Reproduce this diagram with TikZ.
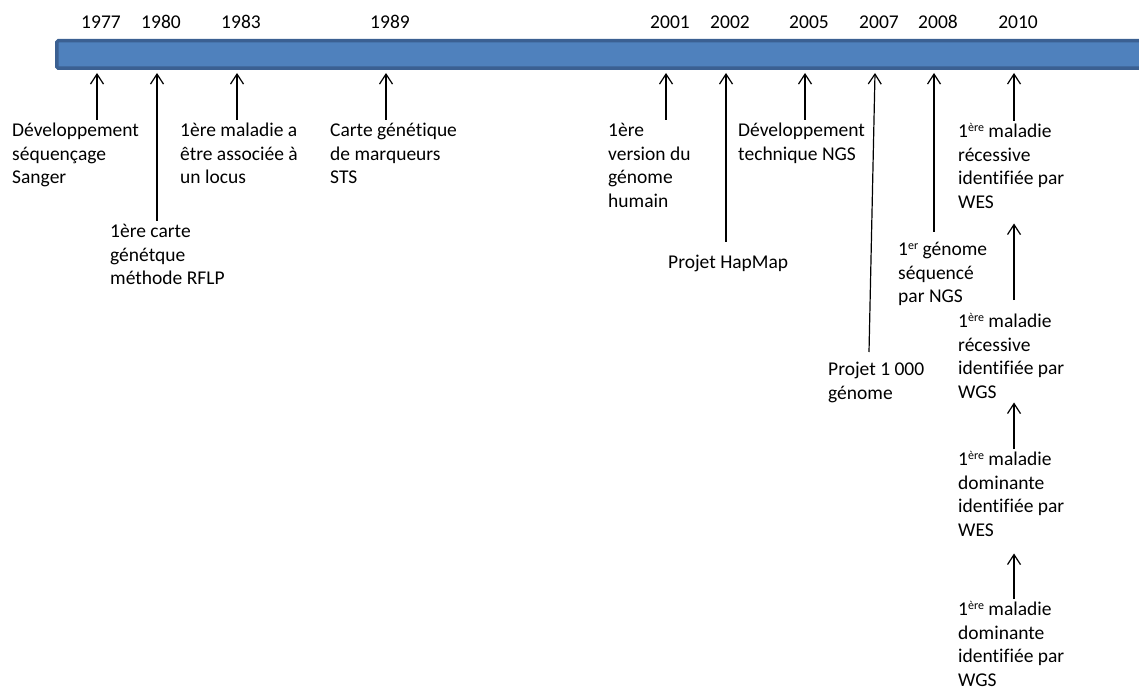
\documentclass[tikz,border=0pt]{standalone}
\usepackage{fontspec}
\setmainfont{Carlito}[Ligatures=NoCommon]
\usetikzlibrary{arrows.meta}
\definecolor{BarFill}{HTML}{4F81BD}
\definecolor{BarEdge}{HTML}{3B6092}
\newcommand{\supr}[1]{\raisebox{0.3em}{\fontsize{12}{12}\selectfont #1}}
\tikzset{
  year/.style={inner sep=0pt},
  lbl/.style={anchor=north west,inner sep=0pt,align=left},
  tick/.style={line width=1.2pt,-{Straight Barb[length=10pt,width=13pt]}}
}

\begin{document}
\begin{tikzpicture}[x=1pt,y=1pt,font=\fontsize{19.5}{23.5}\selectfont]
    \useasboundingbox (0,0) rectangle (1139,-692);
    % the time bar
    \draw[BarEdge,fill=BarFill,line width=3.5pt,rounded corners=1.5pt] (56.75,-40.75) rectangle (1150,-68.25);
    \foreach \yr/\x in {1977/97,1980/157,1983/237,1989/386,2001/666,2002/726,2005/805,2007/875,2008/934,2010/1014}{
      \coordinate (a\yr) at (\x,-73);
      \node[year] (y\yr) at (\x+4,-22) {\yr};
    }
    % events
    \node[lbl] (sanger) at (12,-120) {\strut Développement\\séquençage\\Sanger};
    \node[lbl] (rflp) at (110,-221) {\strut 1ère carte\\génétque\\méthode RFLP};
    \node[lbl] (locus) at (180,-120) {\strut 1ère maladie a\\être associée à\\un locus};
    \node[lbl] (sts) at (330,-120) {\strut Carte génétique\\de marqueurs\\STS};
    \node[lbl] (humain) at (608,-120) {\strut 1ère\\version du\\génome\\humain};
    \node[lbl] (hapmap) at (668,-252) {\strut Projet HapMap};
    \node[lbl] (ngs) at (738,-120) {\strut Développement\\technique NGS};
    \node[lbl] (p1000) at (828,-359) {\strut Projet 1 000\\génome};
    \node[lbl] (premier) at (898,-239) {\strut 1\supr{er} génome\\séquencé\\par NGS};
    \node[lbl] (recwes) at (958,-121) {\strut 1\supr{ère} maladie\\récessive\\identifiée par\\WES};
    \node[lbl] (recwgs) at (958,-311) {\strut 1\supr{ère} maladie\\récessive\\identifiée par\\WGS};
    \node[lbl] (domwes) at (958,-449) {\strut 1\supr{ère} maladie\\dominante\\identifiée par\\WES};
    \node[lbl] (domwgs) at (958,-599) {\strut 1\supr{ère} maladie\\dominante\\identifiée par\\WGS};
    \coordinate (f2007) at (869,-352);
    % arrows up to the bar
    \foreach \l/\yr in {sanger/1977,rflp/1980,locus/1983,sts/1989,humain/2001,ngs/2005,recwes/2010}{
      \draw[tick] (\l.north -| a\yr) -- (a\yr);
    }
    \draw[tick,shorten <=10pt] (hapmap.north -| a2002) -- (a2002);
    \draw[tick,shorten <=7pt] (premier.north -| a2008) -- (a2008);
    \draw[tick] (f2007) -- (a2007);
    \draw[tick,shorten <=11pt,shorten >=15pt] (recwgs.north -| a2010) -- (recwes.south -| a2010);
    \draw[tick,shorten >=4pt] (domwes.north -| a2010) -- (recwgs.south -| a2010);
    \draw[tick,shorten >=17pt] (domwgs.north -| a2010) -- (domwes.south -| a2010);
\end{tikzpicture}
\end{document}
